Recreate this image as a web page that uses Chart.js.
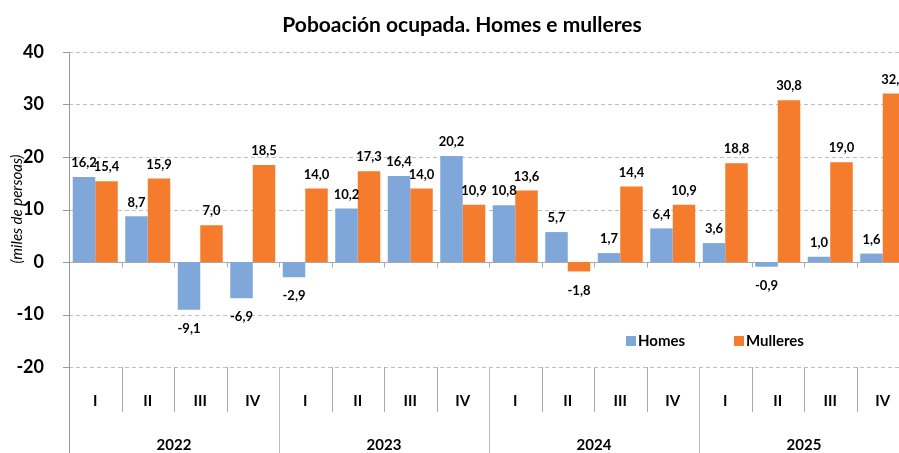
<!DOCTYPE html>
<html><head><meta charset="utf-8">
<script src="https://cdn.jsdelivr.net/npm/chart.js@4.4.0/dist/chart.umd.min.js"></script>
<style>html,body{margin:0;padding:0;overflow:hidden;background:#fff;width:899px;height:453px}
#wrap{width:909px;height:453px}</style></head>
<body><div id="wrap"><canvas id="c" width="909" height="453"></canvas></div>
<script>
const quarters = ['I','II','III','IV','I','II','III','IV','I','II','III','IV','I','II','III','IV'];
const years = ['2022','2023','2024','2025'];
const homes = [16.2, 8.7, -9.1, -6.9, -2.9, 10.2, 16.4, 20.2, 10.8, 5.7, 1.7, 6.4, 3.6, -0.9, 1.0, 1.6];
const mulleres = [15.4, 15.9, 7.0, 18.5, 14.0, 17.3, 14.0, 10.9, 13.6, -1.8, 14.4, 10.9, 18.8, 30.8, 19.0, 32.1];
const yTicks = [-20, -10, 0, 10, 20, 30, 40];
const seriesNames = ['Homes', 'Mulleres'];
const colors = ['#7FA7D9', '#F47C2C'];
const FONT = 'Lato, "Open Sans", sans-serif';

const fmt = v => v.toFixed(1).replace('.', ',');

const decor = {
  id: 'decor',
  beforeDatasetsDraw(chart) {
    const ctx = chart.ctx, ys = chart.scales.y, a = chart.chartArea;
    ctx.save();
    ctx.lineWidth = 1;
    yTicks.forEach(t => {
      const y = Math.round(ys.getPixelForValue(t)) + 0.5;
      ctx.setLineDash([]);
      ctx.strokeStyle = '#999';
      ctx.beginPath(); ctx.moveTo(63, y); ctx.lineTo(a.left, y); ctx.stroke();
      if (t === 0) {
        ctx.strokeStyle = '#aaa';
        ctx.beginPath(); ctx.moveTo(a.left, y); ctx.lineTo(a.right, y); ctx.stroke();
      } else {
        ctx.strokeStyle = '#c0c0c0';
        ctx.setLineDash([4, 3]);
        ctx.beginPath(); ctx.moveTo(a.left, y); ctx.lineTo(a.right, y); ctx.stroke();
      }
    });
    ctx.restore();
  },
  afterDraw(chart) {
    const ctx = chart.ctx, ys = chart.scales.y, xs = chart.scales.x, a = chart.chartArea;
    const w = (a.right - a.left) / quarters.length;
    const y0 = Math.round(ys.getPixelForValue(0)) + 0.5;
    ctx.save();
    ctx.setLineDash([]);
    ctx.lineWidth = 1;
    // axis line
    ctx.strokeStyle = '#999';
    ctx.beginPath(); ctx.moveTo(Math.round(a.left) + 0.5, a.top); ctx.lineTo(Math.round(a.left) + 0.5, 453); ctx.stroke();
    // category ticks at zero line and bottom separators
    for (let i = 1; i <= quarters.length; i++) {
      const x = Math.round(a.left + i * w) + 0.5;
      ctx.strokeStyle = '#aaa';
      ctx.beginPath(); ctx.moveTo(x, y0); ctx.lineTo(x, y0 + 5); ctx.stroke();
      ctx.strokeStyle = i % 4 === 0 ? '#bbb' : '#aaa';
      ctx.beginPath(); ctx.moveTo(x, a.bottom); ctx.lineTo(x, i % 4 === 0 ? 453 : 412); ctx.stroke();
    }
    // quarter labels
    ctx.fillStyle = '#000';
    ctx.textAlign = 'center'; ctx.textBaseline = 'middle';
    ctx.font = 'bold 15px ' + FONT;
    quarters.forEach((q, i) => ctx.fillText(q, xs.getPixelForValue(i), 401));
    years.forEach((yr, k) => ctx.fillText(yr, a.left + (4 * k + 2) * w, 445));
    // data labels
    ctx.font = 'bold 13px ' + FONT;
    chart.data.datasets.forEach((ds, di) => {
      const meta = chart.getDatasetMeta(di);
      meta.data.forEach((bar, i) => {
        const v = ds.data[i];
        const y = v >= 0 ? bar.y - 14 : bar.y + 19;
        ctx.fillText(fmt(v), bar.x, y);
      });
    });
    // title
    ctx.font = 'bold 21px ' + FONT;
    ctx.fillText('Poboación ocupada. Homes e mulleres', 462, 25);
    // y title
    ctx.save();
    ctx.translate(17, 209);
    ctx.rotate(-Math.PI / 2);
    ctx.font = 'italic 15px ' + FONT;
    ctx.fillText('(miles de persoas)', 0, 0);
    ctx.restore();
    // legend
    ctx.textAlign = 'left';
    ctx.font = 'bold 15px ' + FONT;
    const lx = [626, 734];
    seriesNames.forEach((n, i) => {
      ctx.fillStyle = colors[i];
      ctx.fillRect(lx[i], 336, 10, 10);
      ctx.fillStyle = '#000';
      ctx.fillText(n, lx[i] + 12, 341);
    });
    ctx.restore();
  }
};

new Chart(document.getElementById('c'), {
  type: 'bar',
  data: {
    labels: quarters,
    datasets: [
      { label: seriesNames[0], data: homes, backgroundColor: colors[0], borderWidth: 0 },
      { label: seriesNames[1], data: mulleres, backgroundColor: colors[1], borderWidth: 0 }
    ]
  },
  options: {
    responsive: false,
    animation: false,
    devicePixelRatio: 1,
    layout: { padding: { top: 52, bottom: 86, left: 0, right: 0 } },
    plugins: { legend: { display: false }, title: { display: false }, tooltip: { enabled: false } },
    datasets: { bar: { categoryPercentage: 0.857, barPercentage: 1.0 } },
    scales: {
      x: { display: false, offset: true },
      y: {
        min: -20, max: 40,
        afterFit: s => { s.width = 69; },
        afterBuildTicks: s => { s.ticks = yTicks.map(v => ({ value: v })); },
        grid: { display: false },
        border: { display: false },
        ticks: { color: '#000', font: { family: FONT, size: 18, weight: 'bold' }, padding: 17 }
      }
    }
  },
  plugins: [decor]
});
</script></body></html>
